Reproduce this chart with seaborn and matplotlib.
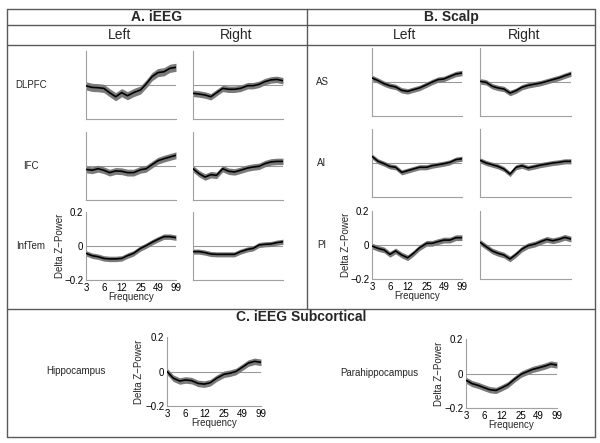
import matplotlib
matplotlib.use('Agg')
import matplotlib.pyplot as plt
import seaborn as sns
from matplotlib.lines import Line2D


# frequencies (Hz) sampled on the curves and the labelled ticks
freqs = [3, 3.8, 4.8, 6, 7.5, 9.5, 12, 15, 19, 25, 31, 39, 49, 62, 78, 99]
tick_freqs = [3, 6, 12, 25, 49, 99]
tick_labels = ['3', '6', '12', '25', '49', '99']

# A. iEEG
dlpfc_left = [-0.005, -0.014, -0.016, -0.02, -0.045, -0.069, -0.045, -0.063,
              -0.045, -0.029, 0.006, 0.049, 0.073, 0.078, 0.098, 0.104]
dlpfc_right = [-0.049, -0.053, -0.059, -0.069, -0.045, -0.02, -0.025, -0.025,
               -0.02, -0.004, -0.004, 0.004, 0.02, 0.03, 0.033, 0.025]
ifc_left = [-0.02, -0.025, -0.016, -0.025, -0.039, -0.029, -0.031, -0.039,
            -0.039, -0.022, -0.016, 0.008, 0.031, 0.043, 0.053, 0.063]
ifc_right = [-0.016, -0.045, -0.065, -0.051, -0.055, -0.016, -0.031, -0.035,
             -0.025, -0.012, -0.006, -0.002, 0.014, 0.024, 0.027, 0.027]
inftem_left = [-0.043, -0.057, -0.063, -0.073, -0.076, -0.076, -0.073, -0.057,
               -0.043, -0.014, 0.002, 0.022, 0.039, 0.055, 0.055, 0.049]
inftem_right = [-0.033, -0.033, -0.039, -0.047, -0.049, -0.049, -0.049, -0.049,
                -0.033, -0.02, -0.014, 0.006, 0.01, 0.012, 0.02, 0.025]

# B. Scalp
as_left = [0.024, 0.008, -0.01, -0.022, -0.029, -0.049, -0.055, -0.045,
           -0.035, -0.016, 0.0, 0.014, 0.018, 0.033, 0.047, 0.053]
as_right = [0.004, -0.002, -0.025, -0.035, -0.041, -0.065, -0.051, -0.031,
            -0.02, -0.012, -0.006, 0.004, 0.014, 0.024, 0.037, 0.049]
ai_left = [0.039, 0.01, -0.004, -0.02, -0.025, -0.055, -0.045, -0.035,
           -0.025, -0.025, -0.016, -0.01, -0.004, 0.004, 0.02, 0.025]
ai_right = [0.016, 0.0, -0.01, -0.02, -0.035, -0.065, -0.025, -0.016,
            -0.029, -0.02, -0.012, -0.006, 0.0, 0.004, 0.01, 0.01]
pi_left = [-0.006, -0.02, -0.029, -0.055, -0.035, -0.059, -0.075, -0.049,
           -0.016, 0.01, 0.01, 0.02, 0.029, 0.029, 0.043, 0.043]
pi_right = [0.016, -0.01, -0.035, -0.049, -0.059, -0.082, -0.055, -0.024,
            -0.004, 0.006, 0.02, 0.033, 0.025, 0.033, 0.045, 0.035]

# C. iEEG Subcortical
hippocampus = [0.0, -0.039, -0.055, -0.049, -0.053, -0.069, -0.073, -0.065,
               -0.039, -0.016, -0.01, 0.0, 0.024, 0.049, 0.059, 0.053]
parahippocampus = [-0.039, -0.059, -0.069, -0.082, -0.094, -0.098, -0.082, -0.065,
                   -0.035, -0.004, 0.01, 0.024, 0.033, 0.043, 0.055, 0.049]

# half width of the shaded error band per panel
sem = {'dlpfc_left': 0.024, 'dlpfc_right': 0.019, 'ifc_left': 0.02, 'ifc_right': 0.019,
       'inftem_left': 0.016, 'inftem_right': 0.015, 'as_left': 0.016, 'as_right': 0.016,
       'ai_left': 0.015, 'ai_right': 0.015, 'pi_left': 0.017, 'pi_right': 0.017,
       'hippocampus': 0.019, 'parahippocampus': 0.018}


sns.set_style('white')
plt.rcParams['font.family'] = ['Liberation Sans', 'DejaVu Sans']

W, H = 600, 443
fig = plt.figure(figsize=(W / 100, H / 100), dpi=100)

BORDER = '#5a5a5a'
SMALL = 7


def px_axes(x0, y0, x1, y1):
    return fig.add_axes([x0 / W, 1 - y1 / H, (x1 - x0) / W, (y1 - y0) / H])


def hline(y, x0, x1):
    fig.add_artist(Line2D([x0 / W, x1 / W], [1 - y / H, 1 - y / H],
                          transform=fig.transFigure, color=BORDER, lw=1))


def vline(x, y0, y1):
    fig.add_artist(Line2D([x / W, x / W], [1 - y0 / H, 1 - y1 / H],
                          transform=fig.transFigure, color=BORDER, lw=1))


def ftext(x, y, s, **kw):
    fig.text(x / W, 1 - y / H, s, ha='center', va='center', **kw)


def draw_panel(box, values, err, labels=None):
    ax = px_axes(*box)
    lo = [v - err for v in values]
    hi = [v + err for v in values]
    ax.fill_between(freqs, lo, hi, color='#7a7a7a', lw=0, zorder=2)
    sns.lineplot(x=freqs, y=values, ax=ax, color='black', lw=1.2, zorder=3)
    ax.axhline(0, color='#9a9a9a', lw=0.8, zorder=1)
    ax.set_xscale('log')
    ax.set_xlim(3, 99)
    ax.set_ylim(-0.2, 0.2)
    ax.minorticks_off()
    ax.spines[['top', 'right']].set_visible(False)
    ax.spines[['left', 'bottom']].set_color('#a0a0a0')
    ax.spines[['left', 'bottom']].set_linewidth(0.8)
    ax.tick_params(length=0, labelsize=SMALL, pad=2, colors='black')
    ax.set_xlabel('')
    ax.set_ylabel('')
    if labels:
        ax.set_xticks(tick_freqs)
        ax.set_xticklabels(tick_labels)
        ax.set_yticks([-0.2, 0, 0.2])
        ax.set_yticklabels(['\u22120.2', '0', '0.2'])
        x0, y0, x1, y1 = box
        ftext((x0 + x1) / 2, y1 + 17, 'Frequency', fontsize=SMALL)
        ftext(labels, (y0 + y1) / 2, 'Delta Z\u2212Power', fontsize=SMALL, rotation=90)
    else:
        ax.set_xticks([])
        ax.set_yticks([])
    return ax


# table frame
hline(9, 7, 595)
hline(25, 7, 595)
hline(45, 7, 595)
hline(309, 7, 595)
hline(437, 7, 595)
vline(7, 9, 437)
vline(595, 9, 437)
vline(307, 9, 309)

ftext(157, 17, 'A. iEEG', fontsize=10, fontweight='bold')
ftext(451, 17, 'B. Scalp', fontsize=10, fontweight='bold')
ftext(120, 35, 'Left', fontsize=10)
ftext(236, 35, 'Right', fontsize=10)
ftext(405, 35, 'Left', fontsize=10)
ftext(524, 35, 'Right', fontsize=10)
ftext(301, 317, 'C. iEEG Subcortical', fontsize=10, fontweight='bold')

# iEEG panels
ieeg_rows = [(51, 'DLPFC', dlpfc_left, dlpfc_right, 'dlpfc'),
             (132, 'IFC', ifc_left, ifc_right, 'ifc'),
             (212, 'InfTem', inftem_left, inftem_right, 'inftem')]
for i, (top, name, left_vals, right_vals, key) in enumerate(ieeg_rows):
    last = i == len(ieeg_rows) - 1
    draw_panel((86, top, 176, top + 68), left_vals, sem[key + '_left'], 60 if last else None)
    draw_panel((193, top, 283, top + 68), right_vals, sem[key + '_right'])
    ftext(31, top + 34, name, fontsize=SMALL)

# scalp panels
scalp_rows = [(48, 'AS', as_left, as_right, 'as'),
              (129, 'AI', ai_left, ai_right, 'ai'),
              (211, 'PI', pi_left, pi_right, 'pi')]
for i, (top, name, left_vals, right_vals, key) in enumerate(scalp_rows):
    last = i == len(scalp_rows) - 1
    draw_panel((372, top, 462, top + 68), left_vals, sem[key + '_left'], 346 if last else None)
    draw_panel((480, top, 571, top + 68), right_vals, sem[key + '_right'])
    ftext(322, top + 34, name, fontsize=SMALL)

# subcortical panels
draw_panel((167, 337, 261, 406), hippocampus, sem['hippocampus'], 139)
ftext(76, 371, 'Hippocampus', fontsize=SMALL)
draw_panel((466, 339, 557, 408), parahippocampus, sem['parahippocampus'], 439)
ftext(379, 373, 'Parahippocampus', fontsize=SMALL)

fig.savefig('out.png', dpi=100)
